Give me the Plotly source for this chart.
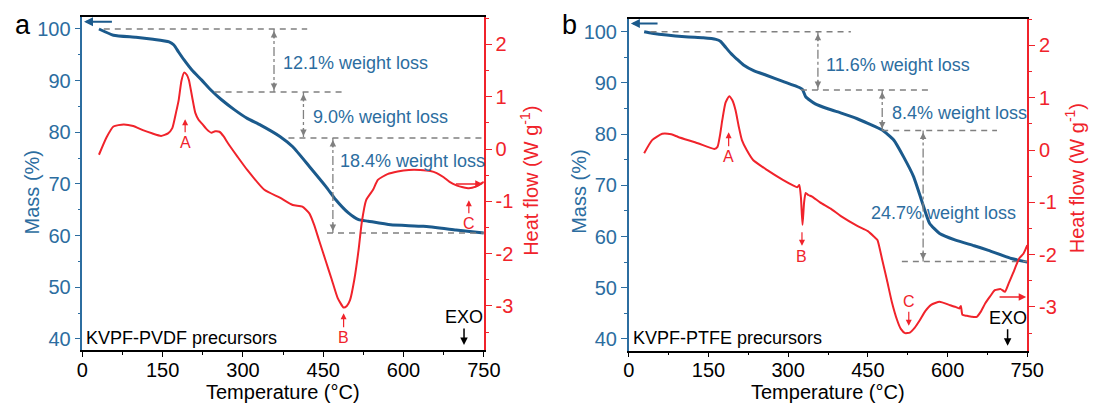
import plotly.graph_objects as go

# ---------------- data ----------------
# Panel a: KVPF-PVDF precursors
temp_a_mass = [31, 58, 100, 132, 162, 171, 180, 190, 205, 223, 240, 260, 285, 308, 333, 369,
               393, 424, 455, 473, 497, 516, 534, 576, 637, 698, 750]
mass_a = [100, 98.8, 98.4, 98.0, 97.5, 96.9, 95.5, 94.0, 92.0, 90.1, 88.2, 86.3, 84.3, 82.7,
          81.4, 79.2, 77.2, 73.4, 69.5, 67.0, 64.4, 63.1, 62.8, 62.1, 61.8, 61.1, 60.5]

temp_a_hf = [31, 45, 58, 77, 95, 113, 130, 147, 160, 168, 175, 180, 185, 190, 195, 199, 205,
             211, 217, 223, 232, 241, 248, 256, 264, 272, 290, 308, 340, 369, 393, 411, 424,
             433, 442, 455, 466, 477, 488, 494, 500, 508, 516, 522, 530, 543, 552, 570, 589,
             610, 631, 650, 662, 675, 686, 700, 711, 722, 735, 750]
hf_a = [-0.11, 0.22, 0.43, 0.47, 0.44, 0.36, 0.30, 0.25, 0.30, 0.40, 0.70, 0.94, 1.30, 1.46,
        1.42, 1.32, 1.00, 0.69, 0.56, 0.49, 0.38, 0.31, 0.34, 0.33, 0.24, 0.11, -0.15, -0.40,
        -0.78, -0.93, -1.07, -1.10, -1.23, -1.45, -1.74, -2.15, -2.50, -2.85, -3.03, -3.00,
        -2.89, -2.50, -1.93, -1.40, -0.98, -0.78, -0.59, -0.48, -0.43, -0.40, -0.40, -0.42,
        -0.46, -0.54, -0.63, -0.70, -0.73, -0.75, -0.72, -0.63]

loss_a = ["12.1", "9.0", "18.4"]
levels_a = [100, 87.8, 78.9, 60.5]

# Panel b: KVPF-PTFE precursors
temp_b_mass = [29, 44, 106, 140, 164, 173, 182, 192, 204, 216, 235, 259, 290, 321, 327, 333,
               351, 376, 400, 430, 450, 477, 499, 517, 536, 551, 566, 585, 615, 650, 677, 720, 750]
mass_b = [100, 99.7, 99.0, 98.8, 98.5, 98.1, 97.0, 95.8, 94.6, 93.5, 92.4, 91.5, 90.3, 89.1,
          88.7, 87.3, 85.9, 84.9, 84.1, 83.0, 82.1, 80.8, 78.8, 75.6, 71.7, 67.1, 62.6, 60.6,
          59.3, 58.2, 57.3, 55.7, 55.0]

temp_b_hf = [29, 44, 63, 80, 93, 130, 161, 167, 172, 176, 182, 189, 195, 201, 207, 213, 222,
             234, 260, 290, 310, 317, 321, 324, 327, 330, 333, 338, 345, 360, 380, 400, 430,
             450, 462, 468, 477, 486, 495, 505, 512, 520, 529, 538, 548, 558, 569, 585, 603,
             615, 622, 625, 628, 636, 646, 655, 662, 671, 680, 689, 700, 708, 715, 723, 735,
             743, 750]
hf_b = [-0.06, 0.19, 0.31, 0.30, 0.25, 0.13, 0.02, 0.06, 0.30, 0.57, 0.90, 1.03, 0.95, 0.76,
        0.45, 0.19, 0.00, -0.19, -0.38, -0.57, -0.68, -0.71, -0.67, -0.90, -1.43, -1.00, -0.82,
        -0.86, -0.89, -1.00, -1.12, -1.27, -1.45, -1.55, -1.66, -1.72, -2.10, -2.49, -2.90,
        -3.25, -3.42, -3.50, -3.49, -3.40, -3.25, -3.08, -2.96, -2.90, -2.96, -3.00, -3.03,
        -2.98, -3.15, -3.17, -3.19, -3.19, -3.10, -2.93, -2.80, -2.68, -2.66, -2.71, -2.55,
        -2.36, -2.07, -1.98, -1.82]

loss_b = ["11.6", "8.4", "24.7"]
levels_b = [100, 88.6, 80.7, 55.1]

# tick labels
heat_ticks = [-3, -2, -1, 0, 1, 2]
heat_ticklabels = ["-3", "-2", "-1", "0", "1", "2"]
sample_labels = ["KVPF-PVDF precursors", "KVPF-PTFE precursors"]
panel_labels = ["a", "b"]

# ---------------- styles ----------------
BLUE_AX = "#2C6DA0"
BLUE = "#1B5A8C"
RED = "#F0232B"
GREY = "#808080"
FONT = "Liberation Sans, Arial, sans-serif"
W, H = 1104, 404

fig = go.Figure()

panels = [
    dict(tm=temp_a_mass, m=mass_a, th=temp_a_hf, h=hf_a, loss=loss_a, lev=levels_a,
         xa="x", ya="y", ha="y2",
         dash_x=[(40, 420), (247, 492), (385, 750), (457, 750)],
         arrow_x=[358, 413, 468],
         text_pos=[(371, 93.4), (428, 83.0), (477, 74.5)],
         xdom=[78, 488], top=17, yr=[37.87, 102.32], hr=[-3.843, 2.524],
         titlex=[27, 535], heat_title_y=181),
    dict(tm=temp_b_mass, m=mass_b, th=temp_b_hf, h=hf_b, loss=loss_b, lev=levels_b,
         xa="x2", ya="y3", ha="y4",
         dash_x=[(41, 418), (324, 569), (477, 693), (514, 750)],
         arrow_x=[356, 477, 554],
         text_pos=[(368, 93.5), (492, 84.1), (453, 64.6)],
         xdom=[636, 1043], top=19, yr=[37.70, 102.48], hr=[-3.837, 2.505],
         titlex=[585, 1092], heat_title_y=178),
]

annotations = []


def paper_text(xpx, ypx, text, size, color, angle=0, xanchor="center"):
    annotations.append(dict(x=xpx / W, y=1 - ypx / H, xref="paper", yref="paper", text=text,
                            textangle=angle, showarrow=False, xanchor=xanchor,
                            yanchor="middle", font=dict(size=size, color=color, family=FONT)))


for i, p in enumerate(panels):
    # heat flow curve
    fig.add_trace(go.Scatter(x=p["th"], y=p["h"], xaxis=p["xa"], yaxis=p["ha"], mode="lines",
                             line=dict(color=RED, width=2, shape="spline", smoothing=0.5),
                             showlegend=False, hoverinfo="skip"))
    # mass curve
    fig.add_trace(go.Scatter(x=p["tm"], y=p["m"], xaxis=p["xa"], yaxis=p["ya"], mode="lines",
                             line=dict(color=BLUE, width=3, shape="spline", smoothing=0.5),
                             showlegend=False, hoverinfo="skip"))
    # dashed levels
    for lev, (x0, x1) in zip(p["lev"], p["dash_x"]):
        fig.add_trace(go.Scatter(x=[x0, x1], y=[lev, lev], xaxis=p["xa"], yaxis=p["ya"],
                                 mode="lines", line=dict(color=GREY, width=1.5, dash="6px,5px"),
                                 showlegend=False, hoverinfo="skip"))
    # vertical double arrows
    for k, ax_x in enumerate(p["arrow_x"]):
        y0, y1 = p["lev"][k], p["lev"][k + 1]
        fig.add_trace(go.Scatter(x=[ax_x, ax_x], y=[y0, y1], xaxis=p["xa"], yaxis=p["ya"],
                                 mode="lines", line=dict(color=GREY, width=1.3, dash="dashdot"),
                                 showlegend=False, hoverinfo="skip"))
        for yy, off in ((y0, 11), (y1, -11)):
            annotations.append(dict(x=ax_x, y=yy, xref=p["xa"], yref=p["ya"], text="",
                                    showarrow=True, ax=0, ay=off, arrowhead=2, arrowsize=1,
                                    arrowwidth=1.3, arrowcolor=GREY, standoff=2))
        tx, ty = p["text_pos"][k]
        annotations.append(dict(x=tx, y=ty, xref=p["xa"], yref=p["ya"],
                                text=f"{p['loss'][k]}% weight loss", showarrow=False,
                                xanchor="left", yanchor="middle",
                                font=dict(size=18, color=BLUE_AX, family=FONT)))

    x0px, x1px = p["xdom"]
    paper_text(p["titlex"][0], 192, "Mass (%)", 20, BLUE_AX, -90)
    paper_text(p["titlex"][1], p["heat_title_y"], "Heat flow (W g<sup>-1</sup>)", 20, RED, -90)
    paper_text((x0px + x1px) / 2, 392, "Temperature (°C)", 20, "black")
    paper_text(x0px + 2, 338, sample_labels[i], 18, "black", xanchor="left")
    paper_text(x0px - 61, 25, panel_labels[i], 27, "black")
    # EXO
    annotations.append(dict(x=713, y=p["hr"][0] + (p["hr"][1] - p["hr"][0]) * 0.015,
                            xref=p["xa"], yref=p["ha"], text="EXO", showarrow=True,
                            ax=0, ay=-28, arrowhead=2, arrowwidth=1.5, arrowcolor="black",
                            font=dict(size=18, color="black", family=FONT)))


# peak labels
def peak(xa, ya, x, y, txt, ay):
    annotations.append(dict(x=x, y=y, xref=xa, yref=ya, text=txt, showarrow=True, ax=0, ay=ay,
                            arrowhead=2, arrowwidth=1.2, arrowsize=1, arrowcolor=RED,
                            standoff=1, font=dict(size=16, color=RED, family=FONT)))


peak("x", "y2", 192, 0.59, "A", 24)
peak("x", "y2", 488, -3.12, "B", 25)
peak("x", "y2", 722, -0.96, "C", 24)
peak("x2", "y4", 188, 0.36, "A", 25)
peak("x2", "y4", 527, -3.38, "C", -25)
# B in panel b: arrow pointing down to the letter
annotations.append(dict(x=326, y=-1.83, xref="x2", yref="y4", text="", showarrow=True,
                        ax=0, ay=-15, arrowhead=2, arrowwidth=1.2, arrowcolor=RED))
annotations.append(dict(x=326, y=-2.03, xref="x2", yref="y4", text="B", showarrow=False,
                        font=dict(size=16, color=RED, family=FONT)))

# side arrows (mass -> left axis, heat -> right axis)
annotations.append(dict(x=3, y=101.4, ax=58, ay=101.4, xref="x", yref="y", axref="x", ayref="y",
                        text="", showarrow=True, arrowhead=2, arrowwidth=1.8, arrowcolor=BLUE))
annotations.append(dict(x=748, y=-0.67, ax=695, ay=-0.67, xref="x", yref="y2", axref="x",
                        ayref="y2", text="", showarrow=True, arrowhead=2, arrowwidth=1.5,
                        arrowcolor=RED))
annotations.append(dict(x=4, y=101.6, ax=57, ay=101.6, xref="x2", yref="y3", axref="x2",
                        ayref="y3", text="", showarrow=True, arrowhead=2, arrowwidth=1.8,
                        arrowcolor=BLUE))
annotations.append(dict(x=748, y=-2.81, ax=695, ay=-2.81, xref="x2", yref="y4", axref="x2",
                        ayref="y4", text="", showarrow=True, arrowhead=2, arrowwidth=1.5,
                        arrowcolor=RED))


def xaxis(dom, anchor):
    return dict(domain=dom, anchor=anchor, range=[0, 750], tick0=0, dtick=150,
                ticks="outside", ticklen=5, tickwidth=1.2, tickcolor="black",
                showline=True, linecolor="black", linewidth=1.5, mirror=True,
                showgrid=False, zeroline=False, ticklabelstandoff=-4,
                tickfont=dict(size=20, color="black", family=FONT),
                minor=dict(tick0=0, dtick=75, ticks="outside", ticklen=3, tickcolor="black",
                           tickwidth=1.2, showgrid=False))


def yaxis(dom, anchor, rng, color, dtick, mdtick, side, overlay=None, labels=None):
    d = dict(domain=dom, anchor=anchor, range=rng, tick0=0, dtick=dtick, side=side,
             ticks="outside", ticklen=6, tickwidth=1.2, tickcolor=color,
             showline=True, linecolor=color, linewidth=1.5, showgrid=False, zeroline=False,
             tickfont=dict(size=20, color=color, family=FONT),
             minor=dict(tick0=0, dtick=mdtick, ticks="outside", ticklen=3, tickcolor=color,
                        tickwidth=1.2, showgrid=False))
    if labels:
        d.update(tickmode="array", tickvals=labels[0], ticktext=labels[1])
    if overlay:
        d["overlaying"] = overlay
    return d


pa, pb = panels
hl = (heat_ticks, heat_ticklabels)
fig.update_layout(
    width=W, height=H, margin=dict(l=0, r=0, t=0, b=0),
    paper_bgcolor="white", plot_bgcolor="white",
    font=dict(family=FONT),
    xaxis=xaxis([pa["xdom"][0] / W, pa["xdom"][1] / W], "y"),
    yaxis=yaxis([1 - 350 / H, 1 - pa["top"] / H], "x", pa["yr"], BLUE_AX, 10, 5, "left"),
    yaxis2=yaxis([1 - 350 / H, 1 - pa["top"] / H], "x", pa["hr"], RED, 1, 0.5, "right", "y", hl),
    xaxis2=xaxis([pb["xdom"][0] / W, pb["xdom"][1] / W], "y3"),
    yaxis3=yaxis([1 - 350.7 / H, 1 - pb["top"] / H], "x2", pb["yr"], BLUE_AX, 10, 5, "left"),
    yaxis4=yaxis([1 - 350.7 / H, 1 - pb["top"] / H], "x2", pb["hr"], RED, 1, 0.5, "right", "y3", hl),
    annotations=annotations,
)

fig.write_html("out.html")
